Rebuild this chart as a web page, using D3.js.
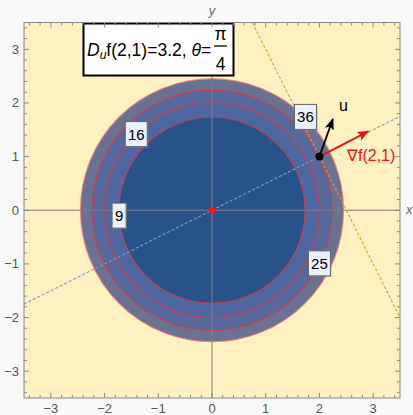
<!DOCTYPE html>
<html>
<head>
<meta charset="utf-8">
<script src="https://cdn.jsdelivr.net/npm/d3@7"></script>
<style>
  body { margin: 0; background: #f9f9f9; }
  svg { display: block; font-family: "Liberation Sans", Arial, sans-serif; }
</style>
</head>
<body>
<script>
// contour levels of f(x,y) = (x^2 + y^2)^2
const levels = [9, 16, 25, 36];
// where each contour label sits (data coords)
const labelPoints = [[-1.73, -0.1], [-1.41, 1.42], [2.0, -0.99], [1.74, 1.74]];
const xTicks = [-3, -2, -1, 0, 1, 2, 3];
const yTicks = [-3, -2, -1, 0, 1, 2, 3];
const point = [2, 1];
const gradEnd = [2.91, 1.47];
const uEnd = [2.25, 1.70];
const normalLine = [[-3.5, -1.75], [3.5, 1.75]];
const tangentLine = [[0.75, 3.5], [3.5, -2]];

const svgWidth = 413;
const svgHeight = 415;
const margin = {top: 22.5, right: 13, bottom: 17, left: 24};
const chartWidth = svgWidth - margin.left - margin.right;
const chartHeight = svgHeight - margin.top - margin.bottom;

const bandColors = ["#28528a", "#4f67a1", "#56689c", "#6b7191"];

const svg = d3.select("body").append("svg")
    .attr("width", svgWidth)
    .attr("height", svgHeight);

const x = d3.scaleLinear().domain([-3.5, 3.5]).range([margin.left, margin.left + chartWidth]);
const y = d3.scaleLinear().domain([-3.5, 3.5]).range([margin.top + chartHeight, margin.top]);

svg.append("defs").append("clipPath").attr("id", "plot")
    .append("rect")
    .attr("x", x(-3.5)).attr("y", y(3.5))
    .attr("width", chartWidth).attr("height", chartHeight);

// background
svg.append("rect")
    .attr("x", x(-3.5)).attr("y", y(3.5))
    .attr("width", chartWidth).attr("height", chartHeight)
    .attr("fill", "#fff1c1");

const g = svg.append("g").attr("clip-path", "url(#plot)");
const radius = lv => Math.pow(lv, 0.25);

// filled bands, largest first
g.selectAll(".band")
    .data(levels.map((lv, i) => ({lv, i})).reverse())
    .join("circle")
    .attr("cx", x(0)).attr("cy", y(0))
    .attr("r", d => x(radius(d.lv)) - x(0))
    .attr("fill", d => bandColors[d.i]);

// contour lines
g.selectAll(".contour")
    .data(levels)
    .join("circle")
    .attr("cx", x(0)).attr("cy", y(0))
    .attr("r", d => x(radius(d)) - x(0))
    .attr("fill", "none")
    .attr("stroke", (d, i) => i === levels.length - 1 ? "#f0807a" : "#d8383f")
    .attr("stroke-width", 1.1)
    .attr("stroke-opacity", 0.9);

// axes through origin
g.append("line")
    .attr("x1", x(-3.5)).attr("x2", x(3.5))
    .attr("y1", y(0)).attr("y2", y(0))
    .attr("stroke", "#808080").attr("stroke-width", 1);

// dashed normal line
g.append("line")
    .attr("x1", x(normalLine[0][0])).attr("y1", y(normalLine[0][1]))
    .attr("x2", x(normalLine[1][0])).attr("y2", y(normalLine[1][1]))
    .attr("stroke", "#7a9bd0").attr("stroke-width", 1.1)
    .attr("stroke-dasharray", "3,2");

// dashed tangent line
g.append("line")
    .attr("x1", x(tangentLine[0][0])).attr("y1", y(tangentLine[0][1]))
    .attr("x2", x(tangentLine[1][0])).attr("y2", y(tangentLine[1][1]))
    .attr("stroke", "#e79a2a").attr("stroke-width", 1.1)
    .attr("stroke-dasharray", "3,2");

// title box
const box = svg.append("g");
box.append("rect")
    .attr("x", 83.5).attr("y", 23.5)
    .attr("width", 150).attr("height", 52)
    .attr("fill", "white").attr("stroke", "black").attr("stroke-width", 2);

g.append("line")
    .attr("x1", x(0)).attr("x2", x(0))
    .attr("y1", y(-3.5)).attr("y2", y(3.5))
    .attr("stroke", "#808080").attr("stroke-width", 1);

const title = box.append("text")
    .attr("x", 87).attr("y", 55.5)
    .attr("font-size", 17.5);
title.append("tspan").attr("font-style", "italic").text("D");
title.append("tspan").attr("font-style", "italic").attr("font-size", 12).attr("dy", 3).text("u");
title.append("tspan").attr("dy", -3).text("f(2,1)=3.2, ");
title.append("tspan").attr("font-style", "italic").text("θ");
title.append("tspan").text("=");
box.append("text").attr("x", 220.5).attr("y", 40).attr("text-anchor", "middle")
    .attr("font-size", 17.5).text("π");
box.append("line").attr("x1", 214).attr("x2", 227).attr("y1", 46).attr("y2", 46)
    .attr("stroke", "black").attr("stroke-width", 1.3);
box.append("text").attr("x", 220.5).attr("y", 70).attr("text-anchor", "middle")
    .attr("font-size", 17.5).text("4");

// arrows
const defs = svg.select("defs");
function marker(id, color) {
    defs.append("marker").attr("id", id)
        .attr("viewBox", "0 0 10 10").attr("refX", 9).attr("refY", 5)
        .attr("markerWidth", 6.5).attr("markerHeight", 6.5)
        .attr("markerUnits", "strokeWidth")
        .attr("orient", "auto")
        .append("path").attr("d", "M0,1 L10,5 L0,9 L2,5 Z").attr("fill", color);
}
marker("headRed", "#f01010");
marker("headBlack", "black");

svg.append("line")
    .attr("x1", x(point[0])).attr("y1", y(point[1]))
    .attr("x2", x(gradEnd[0])).attr("y2", y(gradEnd[1]))
    .attr("stroke", "#f01010").attr("stroke-width", 1.8)
    .attr("marker-end", "url(#headRed)");
svg.append("line")
    .attr("x1", x(point[0])).attr("y1", y(point[1]))
    .attr("x2", x(uEnd[0])).attr("y2", y(uEnd[1]))
    .attr("stroke", "black").attr("stroke-width", 1.8)
    .attr("marker-end", "url(#headBlack)");

svg.append("circle").attr("cx", x(point[0])).attr("cy", y(point[1]))
    .attr("r", 4).attr("fill", "black");
svg.append("circle").attr("cx", x(0)).attr("cy", y(0))
    .attr("r", 3.5).attr("fill", "#f01818");

svg.append("text").attr("x", 339).attr("y", 111)
    .attr("font-size", 16).text("u");
svg.append("text").attr("x", 347).attr("y", 161)
    .attr("font-size", 16).attr("fill", "#f01010").text("∇f(2,1)");

// contour labels
const lbl = svg.selectAll(".lbl")
    .data(levels.map((lv, i) => ({lv, p: labelPoints[i]})))
    .join("g")
    .attr("transform", d => `translate(${x(d.p[0])},${y(d.p[1])})`);
lbl.each(function (d) {
    const w = String(d.lv).length * 8 + 6;
    const s = d3.select(this);
    s.append("rect").attr("x", -w / 2 + 1).attr("y", -11.5).attr("width", w).attr("height", 25)
        .attr("fill", "#8a8a8a").attr("opacity", 0.6);
    s.append("rect").attr("x", -w / 2).attr("y", -12.5).attr("width", w).attr("height", 25)
        .attr("fill", "#e8f1fc").attr("stroke", "#666").attr("stroke-width", 1);
    s.append("text").attr("text-anchor", "middle").attr("y", 5.5)
        .attr("font-size", 15).text(d.lv);
});

// frame with ticks
svg.append("rect")
    .attr("x", x(-3.5)).attr("y", y(3.5))
    .attr("width", chartWidth).attr("height", chartHeight)
    .attr("fill", "none").attr("stroke", "#888").attr("stroke-width", 1);

const minor = d3.range(-3.4, 3.41, 0.2).map(v => Math.round(v * 10) / 10);
const tickG = svg.append("g").attr("stroke", "#888").attr("stroke-width", 1);
minor.forEach(v => {
    const major = Number.isInteger(v);
    const len = major ? 5 : 3;
    const px = x(v), py = y(v);
    tickG.append("line").attr("x1", px).attr("x2", px).attr("y1", y(-3.5)).attr("y2", y(-3.5) - len);
    tickG.append("line").attr("x1", px).attr("x2", px).attr("y1", y(3.5)).attr("y2", y(3.5) + len);
    tickG.append("line").attr("y1", py).attr("y2", py).attr("x1", x(-3.5)).attr("x2", x(-3.5) + len);
    tickG.append("line").attr("y1", py).attr("y2", py).attr("x1", x(3.5)).attr("x2", x(3.5) - len);
});

const fmt = v => v < 0 ? "−" + Math.abs(v) : String(v);
svg.selectAll(".xt").data(xTicks).join("text")
    .attr("x", d => x(d)).attr("y", 413)
    .attr("text-anchor", "middle").attr("font-size", 13).attr("fill", "#555")
    .text(fmt);
svg.selectAll(".yt").data(yTicks).join("text")
    .attr("x", 19).attr("y", d => y(d) + 4.5)
    .attr("text-anchor", "end").attr("font-size", 13).attr("fill", "#555")
    .text(fmt);

svg.append("text").attr("x", x(0)).attr("y", 15).attr("text-anchor", "middle")
    .attr("font-size", 13).attr("font-style", "italic").attr("fill", "#666").text("y");
svg.append("text").attr("x", 406).attr("y", y(0) + 4).attr("font-size", 13)
    .attr("font-style", "italic").attr("fill", "#666").text("x");
</script>
</body>
</html>
